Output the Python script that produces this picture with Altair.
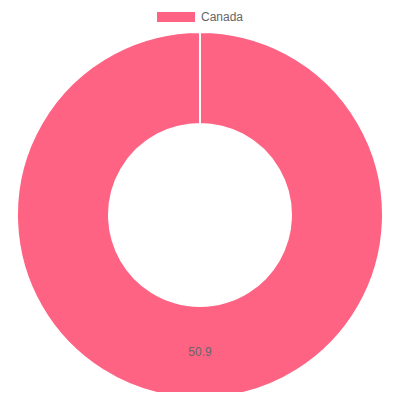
import altair as alt
import pandas as pd

categories = ["Canada"]
values = [50.9]
colors = ["#ff6384"]

df = pd.DataFrame({"country": categories, "value": values})

base = alt.Chart(df).encode(
    theta=alt.Theta("value:Q", stack=True, scale=alt.Scale(range=[0, 6.2830])),
    x=alt.value(192),
    y=alt.value(207),
)

arc = base.mark_arc(outerRadius=183, innerRadius=91, stroke="white", strokeWidth=2).encode(
    color=alt.Color(
        "country:N",
        scale=alt.Scale(domain=categories, range=colors),
        legend=alt.Legend(
            title=None,
            orient="none",
            legendX=149,
            legendY=-10,
            symbolType="M-1,-0.263H1V0.263H-1Z",
            symbolSize=1444,
            symbolStrokeWidth=0,
            labelFont="Liberation Sans",
            labelFontSize=12,
            labelColor="#666666",
            labelOffset=6,
            padding=0,
        ),
    )
)

text = base.mark_text(radius=137, font="Liberation Sans", fontSize=12, color="#666666").encode(
    text=alt.Text("value:Q", format=".1f")
)

chart = (
    alt.layer(arc, text)
    .properties(width=384, height=384, padding=0, autosize=alt.AutoSizeParams(type="none"))
    .configure_view(stroke=None)
)

chart.save("out.html", embed_options={"renderer": "svg", "actions": False})
